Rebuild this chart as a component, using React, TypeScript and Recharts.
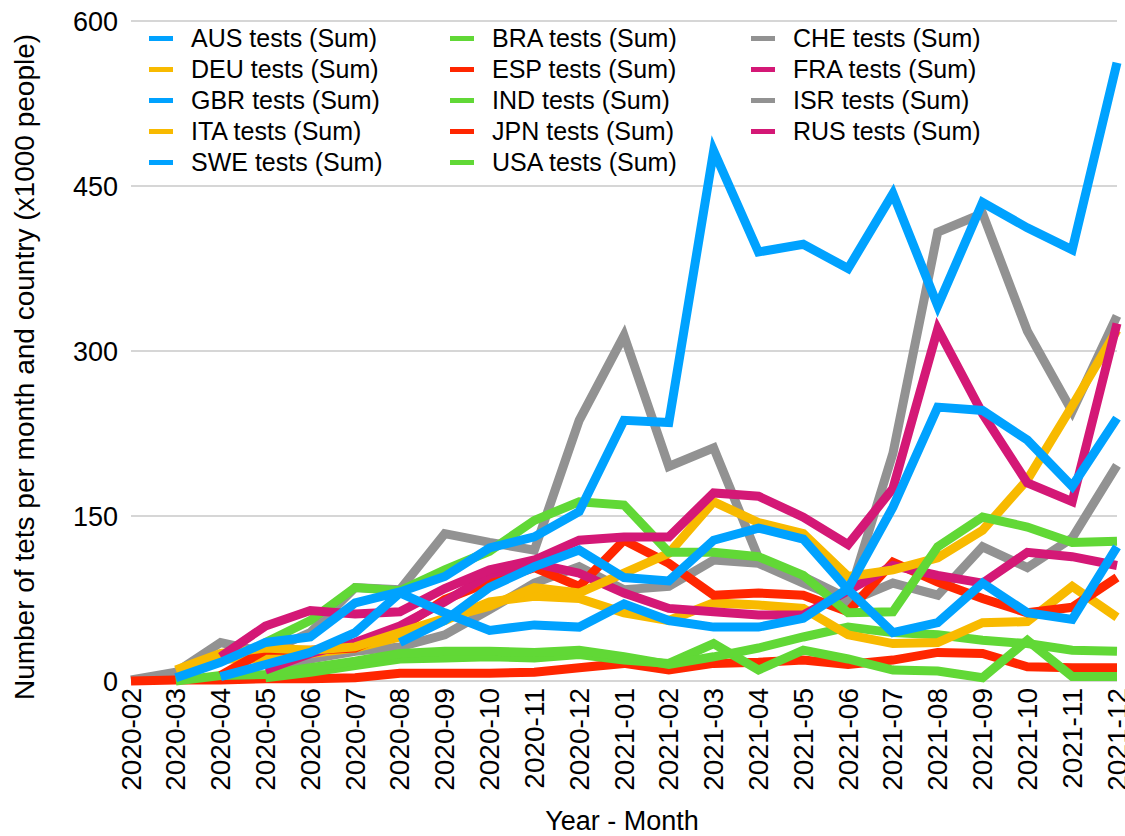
import React from 'react';
import { LineChart, Line, XAxis, YAxis, CartesianGrid, Legend, Label } from 'recharts';

const BLUE = '#00a2ff';
const YELLOW = '#f8ba00';
const GREEN = '#61d836';
const RED = '#ff2600';
const GREY = '#929292';
const MAGENTA = '#d41876';

const months = [
  '2020-02', '2020-03', '2020-04', '2020-05', '2020-06', '2020-07', '2020-08',
  '2020-09', '2020-10', '2020-11', '2020-12', '2021-01', '2021-02', '2021-03',
  '2021-04', '2021-05', '2021-06', '2021-07', '2021-08', '2021-09', '2021-10',
  '2021-11', '2021-12',
];

const yTicks = [0, 150, 300, 450, 600];

// tests per 1000 people
const AUS = [null, null, 4, 15, 26, 44, 80, 62, 46, 51, 49, 70, 55, 49, 49, 57, 84, 158, 249, 246, 219, 177, 239];
const BRA = [null, 0, 5, 6, 12, 18, 25, 27, 27, 26, 28, 22, 15, 22, 30, 40, 49, 44, 42, 37, 34, 28, 27];
const CHE = [null, null, null, 5, 20, 27, 31, 42, 65, 89, 104, 83, 86, 110, 107, 89, 72, 89, 78, 122, 103, 130, 196];
const DEU = [null, null, 20, 20, 25, 30, 40, 55, 72, 77, 75, 62, 55, 71, 69, 66, 42, 34, 35, 53, 54, 86, 58];
const ESP = [null, null, 5, 28, 28, 30, 48, 74, 90, 103, 86, 128, 107, 78, 80, 78, 63, 108, 90, 75, 62, 67, 94];
const FRA = [null, null, 22, 50, 64, 61, 63, 84, 101, 110, 128, 131, 131, 171, 168, 149, 124, 175, 320, 243, 180, 163, 325];
const GBR = [null, 3, 17, 35, 40, 71, 81, 95, 121, 131, 154, 237, 235, 482, 390, 397, 375, 443, 341, 435, 412, 392, 562];
const IND = [null, null, null, 3, 8, 14, 20, 21, 22, 21, 24, 19, 16, 34, 10, 28, 20, 10, 9, 3, 37, 4, 4];
const ISR = [1, 8, 35, 26, 44, 85, 83, 134, 126, 119, 237, 314, 195, 212, 112, 95, 75, 207, 408, 425, 318, 245, 332];
const ITA = [null, 10, 25, 30, 28, 31, 44, 57, 68, 85, 80, 98, 116, 163, 144, 134, 95, 101, 112, 137, 183, 250, 319];
const JPN = [0, 1, 1, 2, 2, 3, 7, 7, 7, 8, 12, 16, 10, 16, 17, 19, 15, 19, 26, 25, 13, 12, 12];
const RUS = [null, null, null, 10, 25, 35, 50, 72, 97, 107, 98, 80, 66, 63, 60, 60, 82, 105, 96, 89, 117, 113, 105];
const SWE = [null, null, null, null, null, null, 35, 55, 85, 104, 119, 94, 91, 128, 139, 129, 83, 44, 53, 89, 62, 56, 122];
const USA = [null, null, null, 35, 55, 85, 82, 101, 118, 146, 163, 160, 117, 117, 113, 96, 62, 63, 122, 149, 140, 126, 127];

const series = [
  { key: 'AUS', color: BLUE, values: AUS },
  { key: 'BRA', color: GREEN, values: BRA },
  { key: 'CHE', color: GREY, values: CHE },
  { key: 'DEU', color: YELLOW, values: DEU },
  { key: 'ESP', color: RED, values: ESP },
  { key: 'FRA', color: MAGENTA, values: FRA },
  { key: 'GBR', color: BLUE, values: GBR },
  { key: 'IND', color: GREEN, values: IND },
  { key: 'ISR', color: GREY, values: ISR },
  { key: 'ITA', color: YELLOW, values: ITA },
  { key: 'JPN', color: RED, values: JPN },
  { key: 'RUS', color: MAGENTA, values: RUS },
  { key: 'SWE', color: BLUE, values: SWE },
  { key: 'USA', color: GREEN, values: USA },
];

// order the lines are painted in (last on top)
const drawOrder = ['ISR', 'CHE', 'JPN', 'IND', 'BRA', 'DEU', 'ESP', 'RUS', 'ITA', 'USA', 'FRA', 'SWE', 'AUS', 'GBR'];

const data = months.map((m, i) => {
  const row: any = { month: m };
  series.forEach((s) => {
    row[s.key] = s.values[i];
  });
  return row;
});

const FONT = '"Liberation Sans", Arial, Helvetica, sans-serif';

const XTick = ({ x, y, payload }: any) => (
  <text
    x={x}
    y={y}
    transform={`rotate(-90 ${x} ${y})`}
    textAnchor="end"
    dominantBaseline="central"
    fontSize={28}
    fontFamily={FONT}
    fill="#000"
  >
    {payload.value}
  </text>
);

const renderLegend = () => (
  <div style={{ display: 'grid', gridTemplateColumns: '301px 301px 301px', fontFamily: FONT }}>
    {series.map((s) => (
      <div key={s.key} style={{ display: 'flex', alignItems: 'center', height: 31 }}>
        <span style={{ display: 'inline-block', width: 24, height: 5, background: s.color, marginRight: 18 }} />
        <span style={{ fontSize: 25, color: '#000', whiteSpace: 'nowrap' }}>{s.key} tests (Sum)</span>
      </div>
    ))}
  </div>
);

export default function App() {
  return (
    <div style={{ position: 'absolute', left: 0, top: 0, background: '#fff' }}>
      <LineChart
        width={1125}
        height={836}
        data={data}
        margin={{ top: 21, right: 8, left: 0, bottom: 0 }}
      >
        <CartesianGrid horizontal vertical={false} stroke="#c8c8c8" strokeWidth={1.5} />
        <XAxis
          dataKey="month"
          height={155}
          interval={0}
          axisLine={false}
          tickLine={false}
          tickSize={0}
          tickMargin={7}
          tick={<XTick />}
        >
          <Label
            content={() => (
              <text x={622} y={830} textAnchor="middle" fontSize={27} fontFamily={FONT} fill="#000">
                Year - Month
              </text>
            )}
          />
        </XAxis>
        <YAxis
          width={131}
          domain={[0, 600]}
          ticks={yTicks}
          axisLine={false}
          tickLine={false}
          tickSize={0}
          tickMargin={13}
          tick={{ fontSize: 27, fill: '#000', fontFamily: FONT }}
        >
          <Label
            content={() => (
              <text
                x={24}
                y={367}
                transform="rotate(-90 24 367)"
                textAnchor="middle"
                dominantBaseline="central"
                fontSize={28}
                fontFamily={FONT}
                fill="#000"
              >
                Number of tets per month and country (x1000 people)
              </text>
            )}
          />
        </YAxis>
        <Legend
          layout="horizontal"
          verticalAlign="middle"
          align="center"
          content={renderLegend}
          wrapperStyle={{ left: 149, top: 23, width: 910 }}
        />
        {drawOrder.map((k) => {
          const s = series.find((x) => x.key === k)!;
          return (
            <Line
              key={k}
              type="linear"
              dataKey={k}
              name={`${k} tests (Sum)`}
              stroke={s.color}
              strokeWidth={9}
              dot={false}
              activeDot={false}
              isAnimationActive={false}
              legendType="plainline"
            />
          );
        })}
      </LineChart>
    </div>
  );
}
